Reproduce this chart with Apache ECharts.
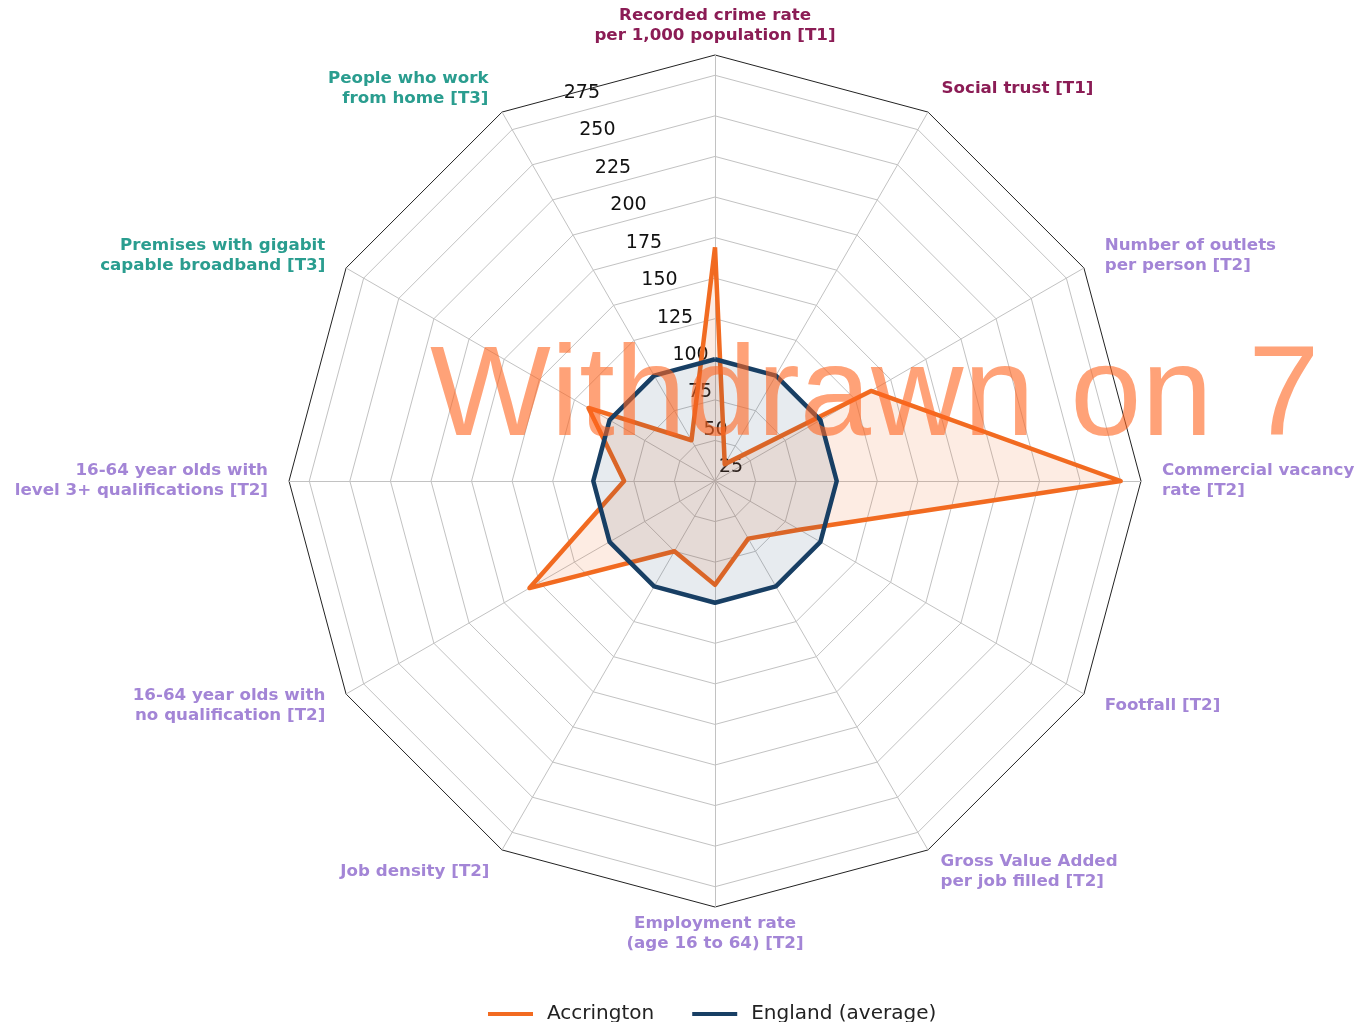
<!DOCTYPE html>
<html>
<head>
<meta charset="utf-8">
<script src="https://cdn.jsdelivr.net/npm/echarts@6/dist/echarts.min.js"></script>
<style>
  html, body { margin: 0; padding: 0; background: #fff; }
  #chart { width: 1358px; height: 1022px; }
</style>
</head>
<body>
<div id="chart"></div>
<script>
// Indicators, clockwise from the top
var indicatorNames = [
  'Recorded crime rate\nper 1,000 population [T1]',
  'Social trust [T1]',
  'Number of outlets\nper person [T2]',
  'Commercial vacancy\nrate [T2]',
  'Footfall [T2]',
  'Gross Value Added\nper job filled [T2]',
  'Employment rate\n(age 16 to 64) [T2]',
  'Job density [T2]',
  '16-64 year olds with\nno qualification [T2]',
  '16-64 year olds with\nlevel 3+ qualifications [T2]',
  'Premises with gigabit\ncapable broadband [T3]',
  'People who work\nfrom home [T3]'
];
var indicatorTiers = ['T1', 'T1', 'T2', 'T2', 'T2', 'T2', 'T2', 'T2', 'T2', 'T2', 'T3', 'T3'];

var accrington = [169, 37, 136, 275, 85, 66, 89, 75, 157, 81, 115, 54];
var englandAvg = [100, 100, 100, 100, 100, 100, 100, 100, 100, 100, 100, 100];

var seriesNames = ['Accrington', 'England (average)'];

// radial scale: centre = 25, outer frame = 287.5, rings every 25
var rMin = 25, rMax = 287.5, rLabelMax = 275;

var tierColor = { T1: '#8b1c55', T2: '#a385d6', T3: '#2a9d8f' };
var orange = '#f26b21', navy = '#183f64';

// ECharts places radar indicators counter-clockwise, so walk the list backwards
var order = [0];
for (var i = indicatorNames.length - 1; i > 0; i--) order.push(i);

function nameGapFor(idx) {
  var a = idx * 30;
  if (a === 0) return 9;
  if (a === 180) return 7;
  if (a === 90 || a === 270) return 21;
  if (a === 30 || a === 330) return 27;
  if (a === 150 || a === 210) return 25;
  return 24;
}

// ring colours: every other split (12.5 steps) hidden, last one is the dark frame
var nSplit = Math.round((rMax - rMin) / 12.5);
var ringColors = [];
for (var k = 0; k <= nSplit; k++) {
  ringColors.push(k === nSplit ? '#222222' : (k % 2 === 0 ? '#c2c2c2' : 'rgba(0,0,0,0)'));
}

var R = 426;                       // outer frame radius in px
var pxPerUnit = R / (rMax - rMin);

var chart = echarts.init(document.getElementById('chart'), null, { renderer: 'canvas' });
chart.setOption({
  animation: false,
  backgroundColor: '#ffffff',
  textStyle: { fontFamily: 'DejaVu Sans' },
  legend: {
    data: seriesNames,
    top: 999,
    left: 483,
    icon: 'rect',
    itemWidth: 45,
    itemHeight: 4,
    itemGap: 38,
    textStyle: { fontSize: 20, color: '#222', fontFamily: 'DejaVu Sans', padding: [0, 0, 0, 9] }
  },
  radar: {
    center: [715, 481],
    radius: R,
    startAngle: 90,
    shape: 'polygon',
    splitNumber: nSplit,
    axisName: { fontFamily: 'DejaVu Sans', fontSize: 16.7, fontWeight: 'bold', lineHeight: 20 },
    indicator: order.map(function (i) {
      return {
        name: indicatorNames[i],
        min: rMin,
        max: rMax,
        color: tierColor[indicatorTiers[i]],
        nameGap: nameGapFor(i)
      };
    }),
    axisLine: { lineStyle: { color: '#c2c2c2', width: 1 } },
    splitLine: { lineStyle: { color: ringColors, width: 1 } },
    splitArea: { show: false },
    axisTick: { show: false },
    axisLabel: { show: false }
  },
  // overlay polar system used only for the radial tick labels (rlabel at 22.5 deg)
  polar: { center: [719, 477], radius: (rLabelMax - rMin) * pxPerUnit },
  angleAxis: { type: 'value', min: 0, max: 360, startAngle: 112.5, show: false },
  radiusAxis: {
    type: 'value', min: rMin, max: rLabelMax, interval: 25,
    axisLine: { show: false }, axisTick: { show: false }, splitLine: { show: false },
    axisLabel: { margin: 0, align: 'left', verticalAlign: 'bottom', fontSize: 19, color: '#111', fontFamily: 'DejaVu Sans' }
  },
  series: [
    {
      type: 'radar', symbol: 'none', z: 2,
      data: [{
        name: seriesNames[0],
        value: order.map(function (i) { return accrington[i]; }),
        lineStyle: { color: orange, width: 4.5 },
        itemStyle: { color: orange },
        areaStyle: { color: 'rgba(242,107,33,0.18)' }
      }]
    },
    {
      type: 'radar', symbol: 'none', z: 3,
      data: [{
        name: seriesNames[1],
        value: order.map(function (i) { return englandAvg[i]; }),
        lineStyle: { color: navy, width: 4.5 },
        itemStyle: { color: navy },
        areaStyle: { color: 'rgba(24,63,100,0.15)' }
      }]
    }
  ],
  graphic: [{
    type: 'text', x: 430, y: 400, z: 100, silent: true,
    style: {
      text: 'Withdrawn on 7',
      font: '128px "Liberation Sans"',
      fill: 'rgba(255,100,30,0.6)',
      verticalAlign: 'middle'
    }
  }]
});
</script>
</body>
</html>
